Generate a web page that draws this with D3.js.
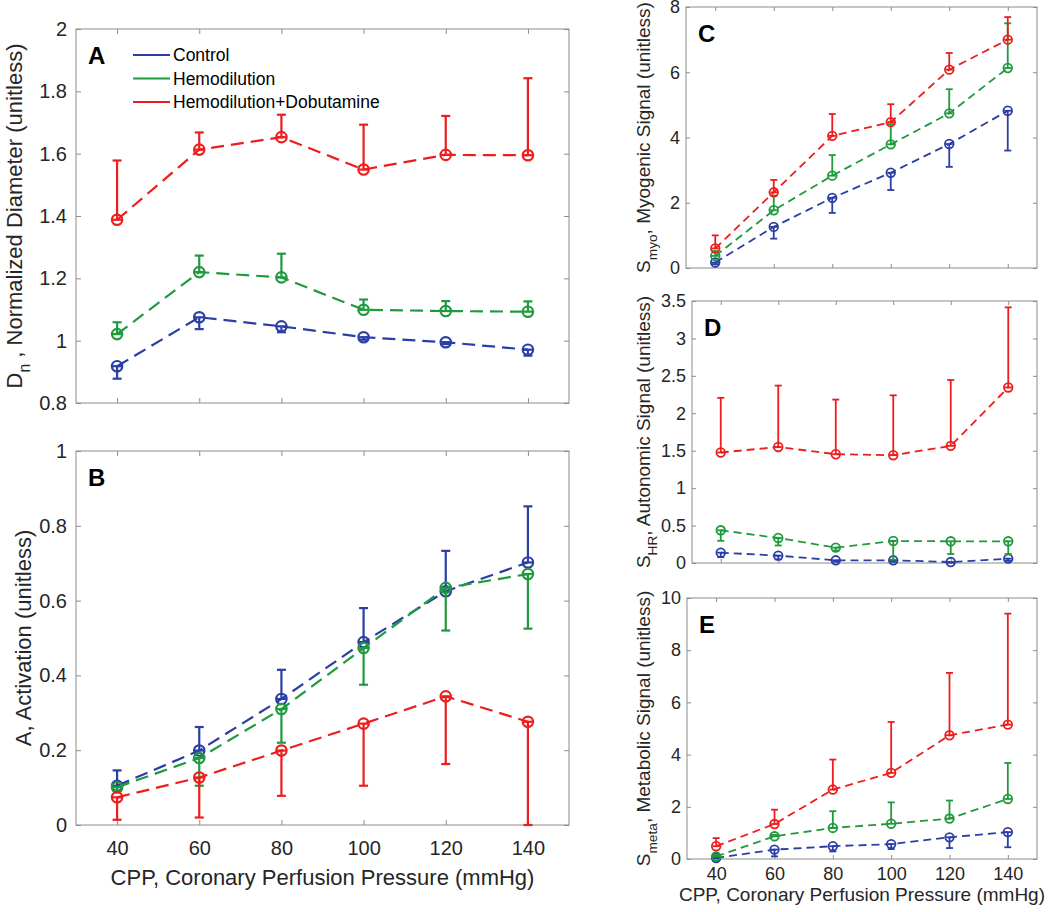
<!DOCTYPE html>
<html><head><meta charset="utf-8">
<script src="https://cdn.jsdelivr.net/npm/d3@7"></script>
<style>body{margin:0;background:#fff}svg{display:block}</style>
</head><body>
<svg id="c" width="1050" height="912"></svg>
<script>
// ---------- data ----------
const cpp = [40, 60, 80, 100, 120, 140];
const seriesNames = ["Control", "Hemodilution", "Hemodilution+Dobutamine"];
const seriesColors = ["#2a3ea6", "#1f9a3c", "#ee1d1d"];
const zeros = [0, 0, 0, 0, 0, 0];

// Panel A: normalized diameter
const aCtrl = [0.918, 1.075, 1.046, 1.011, 0.995, 0.971];
const aCtrlDn = [0.040, 0.038, 0.019, 0.008, 0.006, 0.019];
const aHemo = [1.021, 1.220, 1.203, 1.099, 1.095, 1.093];
const aHemoUp = [0.038, 0.053, 0.076, 0.033, 0.032, 0.033];
const aDob = [1.388, 1.613, 1.653, 1.549, 1.596, 1.595];
const aDobUp = [0.190, 0.055, 0.072, 0.144, 0.125, 0.247];
const aTicks = [0.8, 1, 1.2, 1.4, 1.6, 1.8, 2];

// Panel B: activation
const bCtrl = [0.105, 0.199, 0.337, 0.489, 0.625, 0.702];
const bCtrlUp = [0.041, 0.063, 0.078, 0.091, 0.108, 0.150];
const bHemo = [0.101, 0.179, 0.310, 0.473, 0.634, 0.671];
const bHemoDn = [0.010, 0.074, 0.090, 0.098, 0.114, 0.146];
const bDob = [0.074, 0.127, 0.199, 0.271, 0.344, 0.276];
const bDobDn = [0.060, 0.107, 0.121, 0.166, 0.181, 0.276];
const bTicks = [0, 0.2, 0.4, 0.6, 0.8, 1];

// Panel C: myogenic signal
const cCtrl = [0.17, 1.26, 2.15, 2.92, 3.80, 4.82];
const cCtrlDn = [0.05, 0.36, 0.46, 0.53, 0.70, 1.22];
const cHemo = [0.37, 1.77, 2.83, 3.79, 4.74, 6.13];
const cHemoUp = [0.15, 0.45, 0.63, 0.62, 0.74, 1.37];
const cDob = [0.60, 2.32, 4.05, 4.47, 6.08, 7.00];
const cDobUp = [0.40, 0.38, 0.67, 0.55, 0.51, 0.69];
const cTicks = [0, 2, 4, 6, 8];

// Panel D: autonomic signal
const dCtrl = [0.138, 0.098, 0.036, 0.036, 0.013, 0.058];
const dCtrlDn = [0.06, 0.05, 0.02, 0.02, 0.01, 0.03];
const dHemo = [0.437, 0.334, 0.205, 0.294, 0.290, 0.290];
const dHemoDn = [0.14, 0.10, 0.04, 0.25, 0.17, 0.17];
const dDob = [1.476, 1.550, 1.453, 1.440, 1.565, 2.345];
const dDobUp = [0.73, 0.82, 0.73, 0.80, 0.88, 1.07];
const dTicks = [0, 0.5, 1, 1.5, 2, 2.5, 3, 3.5];

// Panel E: metabolic signal
const eCtrl = [0.04, 0.36, 0.49, 0.57, 0.83, 1.03];
const eCtrlDn = [0.02, 0.26, 0.20, 0.19, 0.41, 0.58];
const eHemo = [0.10, 0.87, 1.19, 1.35, 1.55, 2.30];
const eHemoUp = [0.05, 0.05, 0.64, 0.82, 0.69, 1.38];
const eDob = [0.49, 1.34, 2.66, 3.30, 4.74, 5.15];
const eDobUp = [0.31, 0.55, 1.15, 1.95, 2.39, 4.25];
const eTicks = [0, 2, 4, 6, 8, 10];

const xTicks = [40, 60, 80, 100, 120, 140];
const xTitle = "CPP, Coronary Perfusion Pressure (mmHg)";

// ---------- drawing ----------
const svg = d3.select("#c");
const FONT = "'Liberation Sans', Arial, Helvetica, sans-serif";
const AXC = "#8c8c8c", TXT = "#262626";

function panel(cfg) {
  const x = d3.scaleLinear().domain([30, 150]).range([cfg.l, cfg.r]);
  const y = d3.scaleLinear().domain(cfg.yDomain).range([cfg.b, cfg.t]);
  const g = svg.append("g");
  const tl = cfg.tick;

  g.append("rect").attr("x", cfg.l).attr("y", cfg.t)
    .attr("width", cfg.r - cfg.l).attr("height", cfg.b - cfg.t)
    .attr("fill", "none").attr("stroke", AXC).attr("stroke-width", 1);

  const axB = d3.axisBottom(x).tickValues(xTicks).tickSizeInner(-tl).tickSizeOuter(0)
    .tickFormat(cfg.xLabels ? d3.format("d") : () => "").tickPadding(cfg.xpad);
  const axT = d3.axisTop(x).tickValues(xTicks).tickSizeInner(-tl).tickSizeOuter(0).tickFormat(() => "");
  const axL = d3.axisLeft(y).tickValues(cfg.yTicks).tickSizeInner(-tl).tickSizeOuter(0)
    .tickFormat(d3.format("~g")).tickPadding(cfg.ypad);
  const axR = d3.axisRight(y).tickValues(cfg.yTicks).tickSizeInner(-tl).tickSizeOuter(0).tickFormat(() => "");
  const style = sel => {
    sel.select(".domain").remove();
    sel.selectAll(".tick line").attr("stroke", AXC);
    sel.selectAll("text").attr("fill", TXT).style("font-family", FONT).style("font-size", cfg.fs + "px");
  };
  g.append("g").attr("transform", `translate(0,${cfg.b})`).call(axB).call(style);
  g.append("g").attr("transform", `translate(0,${cfg.t})`).call(axT).call(style);
  g.append("g").attr("transform", `translate(${cfg.l},0)`).call(axL).call(style);
  g.append("g").attr("transform", `translate(${cfg.r},0)`).call(axR).call(style);

  cfg.series.forEach((s, si) => {
    const col = seriesColors[si];
    const pts = cpp.map((c, i) => ({ x: c, v: s.v[i], up: s.up[i], dn: s.dn[i] }));
    const sg = g.append("g");
    sg.append("path").datum(pts)
      .attr("d", d3.line().x(d => x(d.x)).y(d => y(d.v)))
      .attr("fill", "none").attr("stroke", col).attr("stroke-width", cfg.lw)
      .attr("stroke-dasharray", cfg.dash);
    const eb = sg.selectAll(".eb").data(pts).join("g");
    eb.append("line").attr("x1", d => x(d.x)).attr("x2", d => x(d.x))
      .attr("y1", d => y(d.v - d.dn)).attr("y2", d => y(d.v + d.up))
      .attr("stroke", col).attr("stroke-width", cfg.lw);
    eb.append("line").attr("x1", d => x(d.x) - cfg.cap).attr("x2", d => x(d.x) + cfg.cap)
      .attr("y1", d => y(d.v + d.up)).attr("y2", d => y(d.v + d.up))
      .attr("stroke", col).attr("stroke-width", cfg.lw);
    eb.append("line").attr("x1", d => x(d.x) - cfg.cap).attr("x2", d => x(d.x) + cfg.cap)
      .attr("y1", d => y(d.v - d.dn)).attr("y2", d => y(d.v - d.dn))
      .attr("stroke", col).attr("stroke-width", cfg.lw);
    eb.append("circle").attr("cx", d => x(d.x)).attr("cy", d => y(d.v)).attr("r", cfg.mr)
      .attr("fill", "none").attr("stroke", col).attr("stroke-width", cfg.lw);
  });

  g.append("text").attr("x", cfg.l + 12).attr("y", cfg.t + 35)
    .style("font-family", FONT).style("font-weight", "bold").style("font-size", "24px")
    .attr("fill", "#000").text(cfg.letter);

  const yl = g.append("text")
    .attr("transform", `translate(${cfg.ylx},${(cfg.t + cfg.b) / 2}) rotate(-90)`)
    .attr("text-anchor", "middle").attr("fill", TXT)
    .style("font-family", FONT).style("font-size", cfg.lfs + "px");
  yl.append("tspan").text(cfg.yl[0]);
  if (cfg.yl[1]) {
    yl.append("tspan").attr("dy", cfg.lfs * 0.35).style("font-size", (cfg.lfs * 0.72) + "px").text(cfg.yl[1]);
    yl.append("tspan").attr("dy", -cfg.lfs * 0.35).text(cfg.yl[2]);
  }

  if (cfg.xLabels) {
    g.append("text").attr("x", (cfg.l + cfg.r) / 2).attr("y", cfg.xty)
      .attr("text-anchor", "middle").attr("fill", TXT)
      .style("font-family", FONT).style("font-size", cfg.lfs + "px").text(xTitle);
  }

  if (cfg.legend) {
    seriesNames.forEach((n, i) => {
      const yy = 55 + i * 23.5;
      g.append("line").attr("x1", 133).attr("x2", 170).attr("y1", yy).attr("y2", yy)
        .attr("stroke", seriesColors[i]).attr("stroke-width", 2);
      g.append("text").attr("x", 173).attr("y", yy).attr("dy", "0.35em")
        .attr("fill", "#000").style("font-family", FONT).style("font-size", "17.5px").text(n);
    });
  }
}

const left = { l: 76, r: 569, fs: 20, lfs: 22, tick: 5, lw: 2.2, mr: 5.2, cap: 4.5, dash: "13,7", ypad: 9, xpad: 16 };
const right = { r: 1037, fs: 18, lfs: 19, tick: 4, lw: 1.8, mr: 4.3, cap: 3.5, dash: "8,5", ypad: 6, xpad: 8 };

panel(Object.assign({}, left, {
  t: 29, b: 403, yDomain: [0.8, 2], yTicks: aTicks, letter: "A", ylx: 22,
  yl: ["D", "n", " , Normalized Diameter (unitless)"], legend: true,
  series: [{ v: aCtrl, up: zeros, dn: aCtrlDn }, { v: aHemo, up: aHemoUp, dn: zeros }, { v: aDob, up: aDobUp, dn: zeros }]
}));
panel(Object.assign({}, left, {
  t: 451, b: 825, yDomain: [0, 1], yTicks: bTicks, letter: "B", ylx: 31,
  yl: ["A, Activation (unitless)"], xLabels: true, xty: 885,
  series: [{ v: bCtrl, up: bCtrlUp, dn: zeros }, { v: bHemo, up: zeros, dn: bHemoDn }, { v: bDob, up: zeros, dn: bDobDn }]
}));
panel(Object.assign({}, right, {
  l: 686, t: 7, b: 268, yDomain: [0, 8], yTicks: cTicks, letter: "C", ylx: 650,
  yl: ["S", "myo", ", Myogenic Signal (unitless)"],
  series: [{ v: cCtrl, up: zeros, dn: cCtrlDn }, { v: cHemo, up: cHemoUp, dn: zeros }, { v: cDob, up: cDobUp, dn: zeros }]
}));
panel(Object.assign({}, right, {
  l: 692, t: 301, b: 563, yDomain: [0, 3.5], yTicks: dTicks, letter: "D", ylx: 650,
  yl: ["S", "HR", ", Autonomic Signal (unitless)"],
  series: [{ v: dCtrl, up: zeros, dn: dCtrlDn }, { v: dHemo, up: zeros, dn: dHemoDn }, { v: dDob, up: dDobUp, dn: zeros }]
}));
panel(Object.assign({}, right, {
  l: 687, t: 598, b: 859, yDomain: [0, 10], yTicks: eTicks, letter: "E", ylx: 650,
  yl: ["S", "meta", ", Metabolic Signal (unitless)"], xLabels: true, xty: 901,
  series: [{ v: eCtrl, up: zeros, dn: eCtrlDn }, { v: eHemo, up: eHemoUp, dn: zeros }, { v: eDob, up: eDobUp, dn: zeros }]
}));
</script>
</body></html>
